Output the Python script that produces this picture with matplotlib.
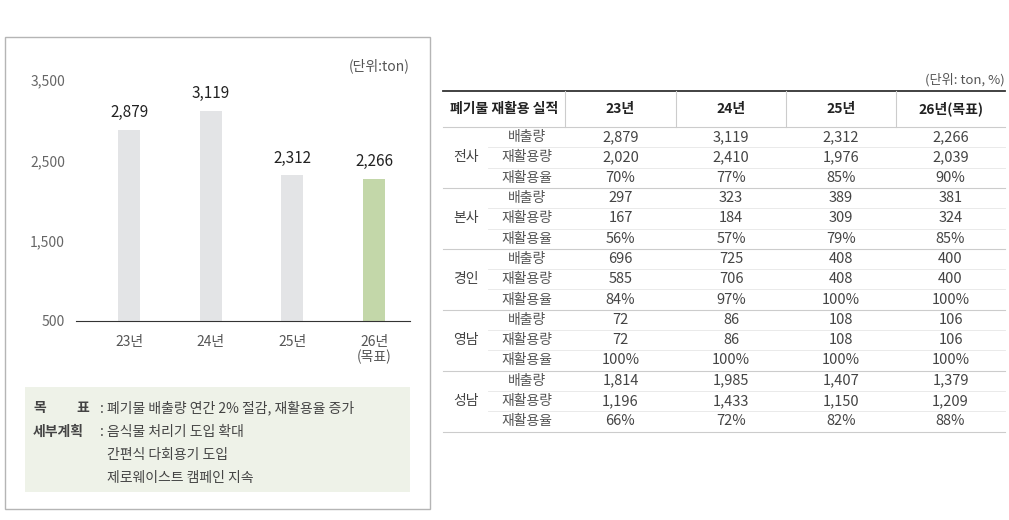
import matplotlib
matplotlib.use("Agg")
import matplotlib.pyplot as plt
from matplotlib.patches import Rectangle

plt.rcParams['font.family'] = ['Noto Sans CJK KR', 'DejaVu Sans']

years = ["23년", "24년", "25년", "26년\n(목표)"]
emissions = [2879, 3119, 2312, 2266]
yticks = [500, 1500, 2500, 3500]

col_heads = ["23년", "24년", "25년", "26년(목표)"]
groups = ["전사", "본사", "경인", "영남", "성남"]
metrics = ["배출량", "재활용량", "재활용율"]
table_vals = [
    [["2,879", "3,119", "2,312", "2,266"], ["2,020", "2,410", "1,976", "2,039"], ["70%", "77%", "85%", "90%"]],
    [["297", "323", "389", "381"], ["167", "184", "309", "324"], ["56%", "57%", "79%", "85%"]],
    [["696", "725", "408", "400"], ["585", "706", "408", "400"], ["84%", "97%", "100%", "100%"]],
    [["72", "86", "108", "106"], ["72", "86", "108", "106"], ["100%", "100%", "100%", "100%"]],
    [["1,814", "1,985", "1,407", "1,379"], ["1,196", "1,433", "1,150", "1,209"], ["66%", "72%", "82%", "88%"]],
]

W, H = 1009, 520
fig = plt.figure(figsize=(W / 100, H / 100), dpi=100)
bg = fig.add_axes([0, 0, 1, 1])
bg.set_xlim(0, W); bg.set_ylim(H, 0); bg.axis('off')

# left panel frame
bg.add_patch(Rectangle((5, 37), 425, 472, fill=False, ec='#b5b5b5', lw=1))
bg.text(410, 66, "(단위:ton)", ha='right', va='center', fontsize=10, color='#555555')

# bar chart
L, R, T, B = 76, 410, 80, 321
ax = fig.add_axes([L / W, 1 - B / H, (R - L) / W, (B - T) / H])
x = list(range(len(years)))
colors = ['#e3e4e6', '#e3e4e6', '#e3e4e6', '#c3d7a9']
ax.bar(x, emissions, width=0.27, color=colors, bottom=0)
ax.set_ylim(500, 3500)
ax.set_xlim(-0.65, 3.44)
ax.set_yticks(yticks)
ax.set_yticklabels([f"{v:,}" for v in yticks], fontsize=10, color='#666666')
ax.set_xticks(x)
ax.set_xticklabels(years, fontsize=10, color='#555555', linespacing=1.1)
ax.tick_params(length=0, pad=10)
ax.tick_params(axis='y', pad=8)
for s in ['top', 'right', 'left']:
    ax.spines[s].set_visible(False)
ax.spines['bottom'].set_color('#333333')
ax.patch.set_alpha(0)
for xi, v in zip(x, emissions):
    ax.text(xi, v + 110, f"{v:,}", ha='center', va='bottom', fontsize=11, color='#222222')

# note box
bg.add_patch(Rectangle((25, 387), 385, 105, color='#eef2e8', lw=0))
bg.text(33, 408, "목", fontsize=10, weight='bold', color='#444444', va='center')
bg.text(76, 408, "표", fontsize=10, weight='bold', color='#444444', va='center')
bg.text(33, 432, "세부계획", fontsize=10, weight='bold', color='#444444', va='center')
bg.text(100, 408, ": 폐기물 배출량 연간 2% 절감, 재활용율 증가", fontsize=10, color='#444444', va='center')
bg.text(100, 432, ": 음식물 처리기 도입 확대", fontsize=10, color='#444444', va='center')
bg.text(107, 455, "간편식 다회용기 도입", fontsize=10, color='#444444', va='center')
bg.text(107, 478, "제로웨이스트 캠페인 지속", fontsize=10, color='#444444', va='center')

# table
bg.text(1005, 80, "(단위: ton, %)", ha='right', va='center', fontsize=9.5, color='#555555')
tx0, tx1 = 443, 1005
cols = [565, 676, 786, 896, 1005]
hy0, hy1 = 91, 127
rh = 20.3
bg.plot([tx0, tx1], [hy0, hy0], color='#333333', lw=1.3)
bg.plot([tx0, tx1], [hy1, hy1], color='#cccccc', lw=0.8)
for c in cols[:-1]:
    bg.plot([c, c], [hy0, hy1], color='#cccccc', lw=0.8)
bg.text((tx0 + cols[0]) / 2, (hy0 + hy1) / 2, "폐기물 재활용 실적", ha='center', va='center',
        fontsize=10, weight='bold', color='#222222')
for i, h in enumerate(col_heads):
    bg.text((cols[i] + cols[i + 1]) / 2, (hy0 + hy1) / 2, h, ha='center', va='center',
            fontsize=10, weight='bold', color='#222222')
for g, gname in enumerate(groups):
    gy = hy1 + g * 3 * rh
    bg.text(466, gy + 1.5 * rh, gname, ha='center', va='center', fontsize=10, color='#444444')
    for m, mname in enumerate(metrics):
        cy = gy + (m + 0.5) * rh
        bg.text(527, cy, mname, ha='center', va='center', fontsize=10, color='#555555')
        for i in range(4):
            bg.text((cols[i] + cols[i + 1]) / 2, cy, table_vals[g][m][i], ha='center', va='center',
                    fontsize=10.5, color='#444444')
        if m < 2:
            bg.plot([488, tx1], [gy + (m + 1) * rh] * 2, color='#e6e6e6', lw=0.6)
    bg.plot([tx0, tx1], [gy + 3 * rh] * 2, color='#cccccc', lw=0.8)

fig.savefig("out.png", dpi=100, facecolor='white')
